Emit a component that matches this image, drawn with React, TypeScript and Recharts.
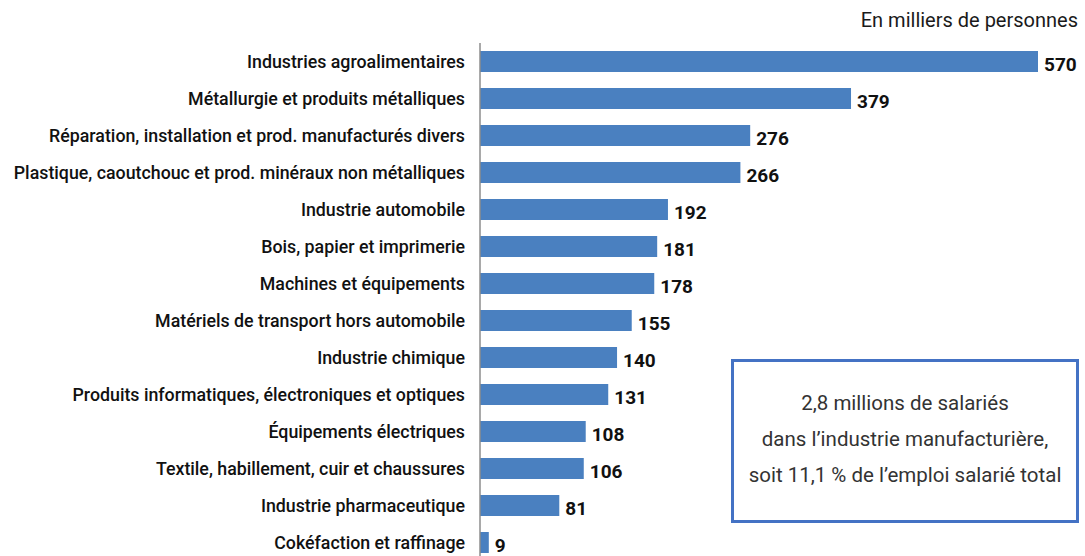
import { BarChart, Bar, XAxis, YAxis, LabelList } from "recharts";

const categories = [
  "Industries agroalimentaires",
  "Métallurgie et produits métalliques",
  "Réparation, installation et prod. manufacturés divers",
  "Plastique, caoutchouc et prod. minéraux non métalliques",
  "Industrie automobile",
  "Bois, papier et imprimerie",
  "Machines et équipements",
  "Matériels de transport hors automobile",
  "Industrie chimique",
  "Produits informatiques, électroniques et optiques",
  "Équipements électriques",
  "Textile, habillement, cuir et chaussures",
  "Industrie pharmaceutique",
  "Cokéfaction et raffinage",
];

const employees = [570, 379, 276, 266, 192, 181, 178, 155, 140, 131, 108, 106, 81, 9];

const unitLabel = "En milliers de personnes";
const noteLines = [
  "2,8 millions de salariés",
  "dans l’industrie manufacturière,",
  "soit 11,1 % de l’emploi salarié total",
];

const data = categories.map((name, i) => ({ name, value: employees[i] }));

const font = "Roboto, 'Noto Sans', sans-serif";

export default function App() {
  return (
    <div
      style={{
        position: "absolute",
        left: 0,
        top: 0,
        width: 1085,
        height: 556,
        overflow: "hidden",
        background: "#fff",
        fontFamily: font,
      }}
    >
      <BarChart
        width={1085}
        height={562}
        data={data}
        layout="vertical"
        margin={{ top: 43, right: 47, bottom: 1, left: 0 }}
        barSize={21}
      >
        <XAxis type="number" domain={[0, 570]} hide />
        <YAxis
          type="category"
          dataKey="name"
          width={480}
          tickLine={false}
          tickSize={0}
          tickMargin={15}
          axisLine={{ stroke: "#8c8c8c", strokeWidth: 1.5 }}
          tick={{ fill: "#111", fontSize: 17.8, fontWeight: 500, fontFamily: font }}
          interval={0}
        />
        <Bar dataKey="value" fill="#4a80c0" isAnimationActive={false}>
          <LabelList
            dataKey="value"
            position="right"
            offset={6}
            dy={3}
            fill="#111"
            fontSize={19}
            fontWeight={700}
            fontFamily={font}
          />
        </Bar>
      </BarChart>
      <div
        style={{
          position: "absolute",
          right: 7,
          top: 8,
          fontSize: 20,
          color: "#1a1a1a",
        }}
      >
        {unitLabel}
      </div>
      <div
        style={{
          position: "absolute",
          left: 731,
          top: 359,
          width: 348,
          height: 164,
          boxSizing: "border-box",
          border: "3px solid #4472c4",
          display: "flex",
          flexDirection: "column",
          justifyContent: "center",
          alignItems: "center",
          fontSize: 20.5,
          lineHeight: "36px",
          color: "#333",
          paddingBottom: 4,
        }}
      >
        {noteLines.map((l) => (
          <div key={l}>{l}</div>
        ))}
      </div>
    </div>
  );
}
